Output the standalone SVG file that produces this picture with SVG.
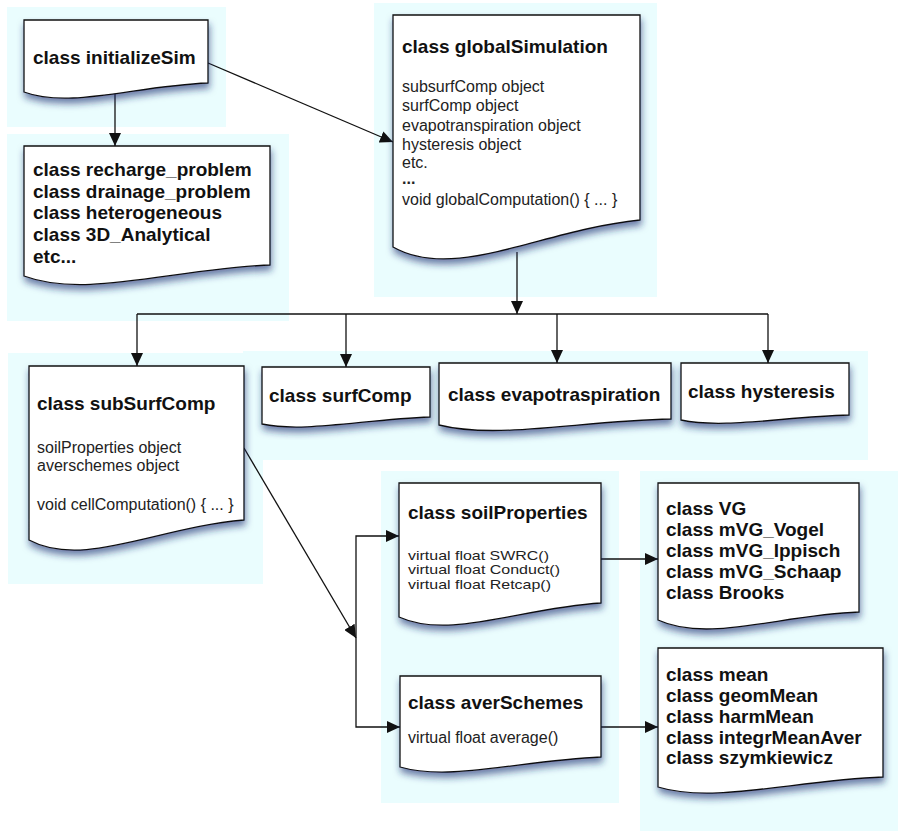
<svg xmlns="http://www.w3.org/2000/svg" width="904" height="835" viewBox="0 0 904 835">
  <defs>
    <style>
      .bg { fill: #EAFDFE; stroke: none; }
      .box { fill: #FFFFFF; stroke: #111111; stroke-width: 1.3; filter: url(#shadow); }
      .title { font-family: "Liberation Sans", Arial, Helvetica, sans-serif; font-weight: bold; font-size: 19px; fill: #111111; }
      .body { font-family: "Liberation Sans", Arial, Helvetica, sans-serif; font-size: 16px; fill: #222222; }
      .small { font-family: "Liberation Sans", Arial, Helvetica, sans-serif; font-size: 13px; fill: #222222; }
      .conn { fill: none; stroke: #111111; stroke-width: 1.3; }
    </style>
    <filter id="shadow" x="-10%" y="-10%" width="125%" height="130%">
      <feGaussianBlur in="SourceAlpha" stdDeviation="3.5"/>
      <feOffset dx="1" dy="5" result="b"/>
      <feFlood flood-color="#1C2C70" flood-opacity="0.6"/>
      <feComposite in2="b" operator="in" result="s"/>
      <feMerge>
        <feMergeNode in="s"/>
        <feMergeNode in="SourceGraphic"/>
      </feMerge>
    </filter>
    <marker id="arrow" markerUnits="userSpaceOnUse" markerWidth="13" markerHeight="12" refX="13" refY="6" orient="auto">
      <path d="M0,0 L13,6 L0,12 z" fill="#111111"/>
    </marker>
  </defs>

  <g id="backgrounds">
    <rect class="bg" x="7" y="7" width="219" height="120"/>
    <rect class="bg" x="7" y="134" width="282" height="187"/>
    <rect class="bg" x="374" y="3" width="283" height="294"/>
    <rect class="bg" x="8" y="353" width="255" height="231"/>
    <rect class="bg" x="243" y="351" width="625" height="109"/>
    <rect class="bg" x="381" y="471" width="238" height="332"/>
    <rect class="bg" x="640" y="471" width="258" height="360"/>
  </g>

  <g id="connectors">
    <path class="conn" d="M115,93 V146" marker-end="url(#arrow)"/>
    <path class="conn" d="M208,63 L393,142" marker-end="url(#arrow)"/>
    <path class="conn" d="M517,252 V314" marker-end="url(#arrow)"/>
    <path class="conn" d="M137,314 H768"/>
    <path class="conn" d="M137,314 V366" marker-end="url(#arrow)"/>
    <path class="conn" d="M346,314 V367" marker-end="url(#arrow)"/>
    <path class="conn" d="M557,314 V363" marker-end="url(#arrow)"/>
    <path class="conn" d="M768,314 V363" marker-end="url(#arrow)"/>
    <path class="conn" d="M244,448 L356,638" marker-end="url(#arrow)"/>
    <path class="conn" d="M356,632 V536 H399" marker-end="url(#arrow)"/>
    <path class="conn" d="M356,632 V727 H400" marker-end="url(#arrow)"/>
    <path class="conn" d="M601,559 H658" marker-end="url(#arrow)"/>
    <path class="conn" d="M601,727 H658" marker-end="url(#arrow)"/>
  </g>

  <g id="initializeSim">
    <path class="box" d="M24,20 H208 V83 C134,86 70,109 24,92 Z"/>
    <text class="title" x="33" y="64">class initializeSim</text>
  </g>

  <g id="problems">
    <path class="box" d="M24,146 H270 V265 C172,269 86,299 24,276 Z"/>
    <text class="title" x="33" y="176">class recharge_problem</text>
    <text class="title" x="33" y="198">class drainage_problem</text>
    <text class="title" x="33" y="219">class heterogeneous</text>
    <text class="title" x="33" y="241">class 3D_Analytical</text>
    <text class="title" x="33" y="263">etc...</text>
  </g>

  <g id="globalSimulation">
    <path class="box" d="M393,15 H640 V220 C541,230 455,282 393,247 Z"/>
    <text class="title" x="402" y="53">class globalSimulation</text>
    <text class="body" x="402" y="92">subsurfComp object</text>
    <text class="body" x="402" y="111">surfComp object</text>
    <text class="body" x="402" y="131">evapotranspiration object</text>
    <text class="body" x="402" y="150">hysteresis object</text>
    <text class="body" x="402" y="168">etc.</text>
    <text class="body" x="402" y="184" font-weight="bold">...</text>
    <text class="body" x="402" y="205">void globalComputation() { ... }</text>
  </g>

  <g id="subSurfComp">
    <path class="box" d="M29,366 H244 V520 C158,527 83,569 29,540 Z"/>
    <text class="title" x="37" y="410">class subSurfComp</text>
    <text class="body" x="37" y="453">soilProperties object</text>
    <text class="body" x="37" y="471">averschemes object</text>
    <text class="body" x="37" y="510">void cellComputation() { ... }</text>
  </g>

  <g id="surfComp">
    <path class="box" d="M262,367 H430 V417 C363,419.5 304,433 262,424 Z"/>
    <text class="title" x="269" y="402">class surfComp</text>
  </g>

  <g id="evapotraspiration">
    <path class="box" d="M439,363 H671 V419 C578,421 497,439.5 439,425 Z"/>
    <text class="title" x="448" y="401">class evapotraspiration</text>
  </g>

  <g id="hysteresis">
    <path class="box" d="M681,363 H849 V415 C782,417 723,429 681,420 Z"/>
    <text class="title" x="688" y="398">class hysteresis</text>
  </g>

  <g id="soilProperties">
    <path class="box" d="M399,483 H601 V603 C520,608 450,640 399,617 Z"/>
    <text class="title" x="408" y="519">class soilProperties</text>
    <text class="small" x="408" y="559.5" textLength="141" lengthAdjust="spacingAndGlyphs">virtual float SWRC()</text>
    <text class="small" x="408" y="574" textLength="152" lengthAdjust="spacingAndGlyphs">virtual float Conduct()</text>
    <text class="small" x="408" y="588.5" textLength="143" lengthAdjust="spacingAndGlyphs">virtual float Retcap()</text>
  </g>

  <g id="averSchemes">
    <path class="box" d="M400,676 H601 V757 C521,760.5 450,781.5 400,767 Z"/>
    <text class="title" x="408" y="709">class averSchemes</text>
    <text class="body" x="408" y="743">virtual float average()</text>
  </g>

  <g id="retentionModels">
    <path class="box" d="M658,483 H859 V612 C779,615 708,643 658,620 Z"/>
    <text class="title" x="666" y="515">class VG</text>
    <text class="title" x="666" y="536">class mVG_Vogel</text>
    <text class="title" x="666" y="557">class mVG_Ippisch</text>
    <text class="title" x="666" y="578">class mVG_Schaap</text>
    <text class="title" x="666" y="599">class Brooks</text>
  </g>

  <g id="averagingSchemes">
    <path class="box" d="M658,648 H883 V777 C793,780.5 714,804 658,787 Z"/>
    <text class="title" x="666" y="681">class mean</text>
    <text class="title" x="666" y="702">class geomMean</text>
    <text class="title" x="666" y="723">class harmMean</text>
    <text class="title" x="666" y="744">class integrMeanAver</text>
    <text class="title" x="666" y="764">class szymkiewicz</text>
  </g>
</svg>
